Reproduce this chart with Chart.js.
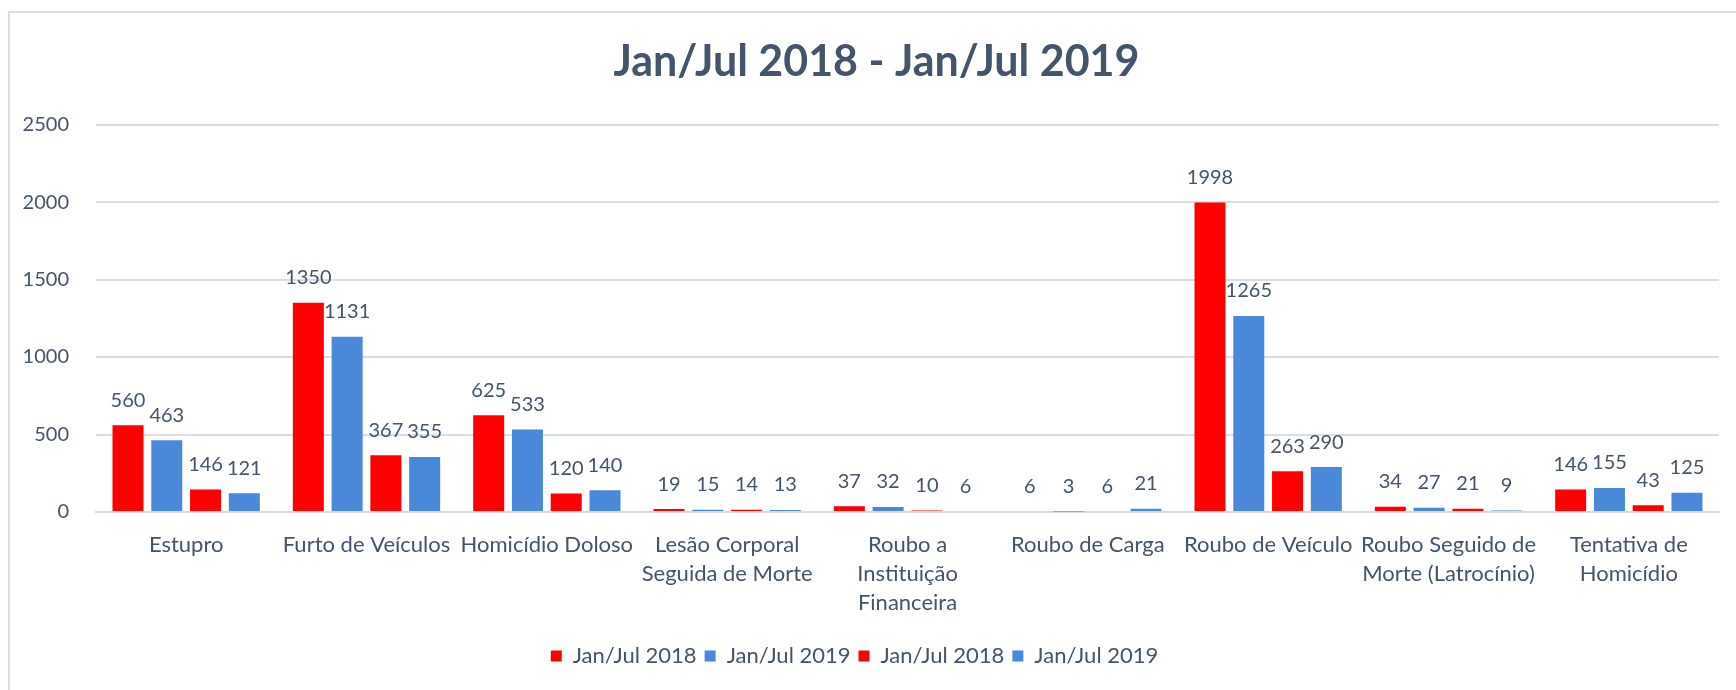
<!DOCTYPE html>
<html>
<head>
<meta charset="utf-8">
<script src="https://cdn.jsdelivr.net/npm/chart.js@4.4.1/dist/chart.umd.min.js"></script>
<style>
  html, body { margin: 0; padding: 0; background: #fff; }
  #wrap { width: 1736px; height: 690px; }
</style>
</head>
<body>
<div id="wrap"><canvas id="myChart" width="1736" height="690"></canvas></div>
<script>
  const categorias = [
    'Estupro',
    'Furto de Veículos',
    'Homicídio Doloso',
    ['Lesão Corporal', 'Seguida de Morte'],
    ['Roubo a', 'Instituição', 'Financeira'],
    'Roubo de Carga',
    'Roubo de Veículo',
    ['Roubo Seguido de', 'Morte (Latrocínio)'],
    ['Tentativa de', 'Homicídio']
  ];
  const serie1 = [560, 1350, 625, 19, 37, 6, 1998, 34, 146];   // Jan/Jul 2018
  const serie2 = [463, 1131, 533, 15, 32, 3, 1265, 27, 155];   // Jan/Jul 2019
  const serie3 = [146, 367, 120, 14, 10, 6, 263, 21, 43];      // Jan/Jul 2018
  const serie4 = [121, 355, 140, 13, 6, 21, 290, 9, 125];      // Jan/Jul 2019
  const yTicks = [0, 500, 1000, 1500, 2000, 2500];

  const vermelho = '#FF0000';
  const azul = '#4A89DA';
  const texto = '#44546A';
  const fonte = 'Lato, "Liberation Sans", sans-serif';

  // moldura cinza clara em volta do gráfico
  const moldura = {
    id: 'moldura',
    beforeDraw(chart) {
      const c = chart.ctx;
      c.save();
      c.fillStyle = '#fff';
      c.fillRect(0, 0, chart.width, chart.height);
      c.strokeStyle = '#D9DEE6';
      c.lineWidth = 2;
      c.strokeRect(9, 12, chart.width + 20, chart.height + 20);
      c.restore();
    }
  };

  // o título e a legenda do original não ficam no mesmo centro
  const ajuste = {
    id: 'ajuste',
    afterLayout(chart) {
      chart.titleBlock.left += 17;
      chart.titleBlock.right += 17;
      chart.legend.left -= 5;
      chart.legend.right -= 5;
    }
  };

  // rótulos de valor acima das barras
  const rotulos = {
    id: 'rotulos',
    afterDatasetsDraw(chart) {
      const c = chart.ctx;
      c.save();
      c.font = '20px ' + fonte;
      c.fillStyle = texto;
      c.textAlign = 'center';
      c.textBaseline = 'middle';
      chart.data.datasets.forEach((ds, i) => {
        chart.getDatasetMeta(i).data.forEach((bar, j) => {
          c.fillText(String(ds.data[j]), bar.x, bar.y - 25);
        });
      });
      c.restore();
    }
  };

  const ctx = document.getElementById('myChart');
  new Chart(ctx, {
    type: 'bar',
    data: {
      labels: categorias,
      datasets: [
        { label: 'Jan/Jul 2018', data: serie1, backgroundColor: vermelho },
        { label: 'Jan/Jul 2019', data: serie2, backgroundColor: azul },
        { label: 'Jan/Jul 2018', data: serie3, backgroundColor: vermelho },
        { label: 'Jan/Jul 2019', data: serie4, backgroundColor: azul }
      ]
    },
    options: {
      responsive: false,
      animation: false,
      categoryPercentage: 0.86,
      barPercentage: 0.8,
      layout: { padding: { left: 0, right: 17, top: 12, bottom: 13 } },
      plugins: {
        title: {
          display: true,
          text: 'Jan/Jul 2018 - Jan/Jul 2019',
          color: texto,
          font: { family: fonte, size: 43, weight: 'bold' },
          padding: { top: 24, bottom: 37 }
        },
        legend: {
          position: 'bottom',
          labels: {
            color: texto,
            font: { family: fonte, size: 22 },
            boxWidth: 11,
            boxHeight: 11,
            padding: 8
          }
        },
        tooltip: { enabled: false }
      },
      scales: {
        x: {
          grid: { display: false },
          border: { color: '#D9D9D9', width: 2 },
          ticks: {
            color: texto,
            font: { family: fonte, size: 22, lineHeight: 1.32 },
            autoSkip: false,
            maxRotation: 0,
            padding: 10
          },
          afterFit(scale) { scale.height = 125; }
        },
        y: {
          min: 0,
          max: 2500,
          afterBuildTicks(scale) { scale.ticks = yTicks.map(v => ({ value: v })); },
          grid: { color: '#D9DEE6', lineWidth: 2, drawTicks: false },
          border: { display: false },
          ticks: {
            color: texto,
            font: { family: fonte, size: 20 },
            padding: 27,
            callback: v => String(v)
          },
          afterFit(scale) { scale.width = 96; }
        }
      }
    },
    plugins: [moldura, ajuste, rotulos]
  });
</script>
</body>
</html>
